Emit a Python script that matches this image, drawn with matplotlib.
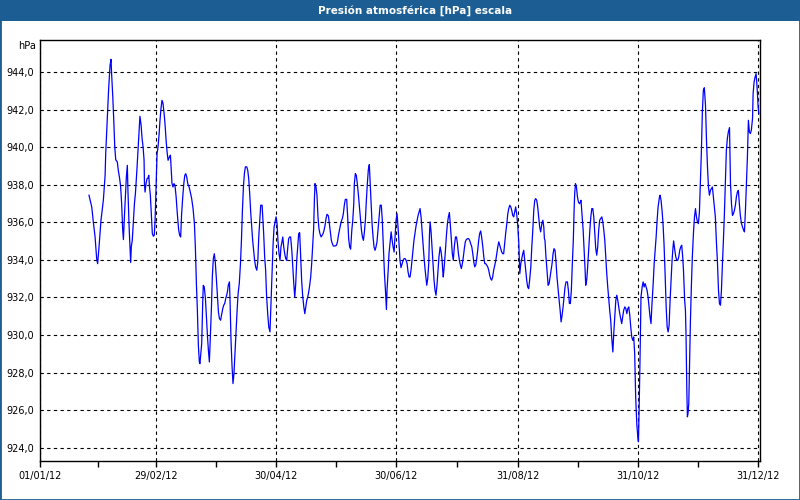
import pandas as pd
import matplotlib.pyplot as plt
from matplotlib.patches import Rectangle
from matplotlib.ticker import FuncFormatter
import matplotlib.dates as mdates

title = 'Presión atmosférica [hPa] escala'
unit = 'hPa'
tick_dates = ['2012-01-01', '2012-02-29', '2012-04-30', '2012-06-30',
              '2012-08-31', '2012-10-31', '2012-12-31']
y_ticks = [924, 926, 928, 930, 932, 934, 936, 938, 940, 942, 944]

# days since 01/01/12 and pressure (hPa) in six pieces
days_feb = [24.9, 26.3, 27.1, 28.0, 28.8, 29.3, 30.0, 31.0, 32.2, 33.1,
            33.4, 33.9, 34.4, 34.9, 35.6, 36.1, 36.4, 37.0, 37.5, 38.0,
            38.5, 39.3, 39.8, 40.5, 41.0, 41.5, 42.0, 42.4, 42.9, 43.4,
            43.9, 44.4, 44.7, 45.3, 45.8, 46.1, 46.4, 46.9, 47.5, 48.0,
            48.5, 49.2, 49.7, 50.2, 50.5, 50.8, 51.4, 51.9, 52.4, 52.9,
            53.1, 53.4, 53.9, 54.4, 54.9, 55.3, 55.6, 56.1, 56.6, 57.1,
            57.6, 58.1, 58.5, 58.8, 59.2, 59.5, 60.0, 60.5, 61.0, 61.5,
            62.0, 62.5, 63.1, 63.6, 64.1, 64.6, 65.1, 65.8, 66.3, 66.6,
            67.1, 67.6, 68.1, 68.6, 69.2, 69.8, 70.5, 71.0, 71.5, 72.0,
            72.5, 73.1, 73.6, 74.1, 74.6, 75.1, 75.8, 76.4, 77.1, 77.8,
            78.5, 79.0, 79.5, 80.0, 80.5, 81.0]
p_feb = [937.44, 936.82, 936.02, 935.22, 934.07, 933.80, 934.69, 936.11, 937.17, 938.50,
         939.65, 940.81, 942.05, 943.11, 944.35, 944.67, 943.91, 942.67, 941.43, 940.01,
         939.33, 939.21, 938.77, 938.32, 937.88, 936.99, 935.67, 935.08, 936.29, 937.35,
         938.41, 939.03, 937.70, 935.75, 934.51, 933.86, 934.69, 935.04, 936.11, 936.99,
         937.53, 938.68, 939.65, 940.54, 941.07, 941.64, 941.16, 940.45, 940.01, 939.30,
         938.06, 937.61, 938.06, 938.32, 938.36, 938.50, 937.97, 937.44, 936.46, 935.40,
         935.26, 935.31, 936.11, 937.17, 938.77, 939.65, 940.01, 940.63, 941.43, 942.05,
         942.49, 942.35, 941.78, 941.16, 940.36, 939.74, 939.30, 939.48, 939.57, 939.03,
         938.06, 937.88, 938.06, 937.97, 937.35, 936.46, 935.58, 935.31, 935.22, 936.46,
         937.26, 938.06, 938.50, 938.59, 938.41, 938.06, 937.88, 937.61, 937.26, 936.73,
         935.93, 934.60, 932.74, 931.32, 929.46, 928.57]

days_apr = [81.3, 82.2, 82.7, 83.0, 83.5, 84.1, 84.6, 85.1, 85.6, 86.1,
            86.6, 87.1, 87.6, 88.1, 88.6, 89.1, 89.6, 90.2, 90.7, 91.2,
            91.8, 92.4, 92.9, 93.4, 93.9, 94.4, 94.9, 95.4, 95.7, 96.3,
            96.6, 97.1, 97.6, 98.1, 98.6, 99.1, 99.6, 100.2, 100.7, 101.3,
            101.9, 102.4, 102.9, 103.4, 103.9, 104.4, 105.1, 105.6, 106.1, 106.6,
            107.1, 107.6, 108.1, 108.6, 109.1, 109.6, 110.2, 110.7, 111.2, 111.7,
            112.2, 112.9, 113.2, 113.7, 114.2, 114.7, 115.2, 115.8, 116.3, 116.9,
            117.4, 118.0, 118.5, 119.0, 119.5, 120.0, 120.5, 121.0, 121.5, 122.0,
            122.5, 123.0, 123.4, 123.9, 124.4, 124.9, 125.4, 125.9, 126.4, 126.9,
            127.4, 128.0, 128.5, 129.0, 129.5, 130.0, 130.5, 131.0, 131.5, 132.0,
            132.5, 133.0, 133.5, 134.1, 134.6, 135.1, 135.6, 136.1, 136.6, 137.1,
            137.6, 138.1, 138.6, 139.1, 139.5]
p_apr = [928.48, 929.55, 931.68, 932.65, 932.56, 931.94, 930.97, 929.99, 929.19, 928.57,
         929.99, 931.32, 933.09, 934.07, 934.33, 933.89, 933.09, 932.03, 931.23, 930.88,
         930.79, 931.14, 931.41, 931.59, 931.68, 931.94, 932.12, 932.38, 932.65, 932.83,
         931.85, 929.72, 928.39, 927.42, 927.95, 929.02, 930.17, 931.32, 932.21, 932.74,
         933.80, 935.04, 936.64, 937.88, 938.59, 938.95, 938.95, 938.77, 938.32, 937.53,
         936.55, 935.75, 935.04, 934.51, 933.98, 933.63, 933.45, 933.89, 935.22, 936.11,
         936.91, 936.91, 936.37, 935.40, 934.16, 933.45, 932.03, 931.06, 930.43, 930.17,
         931.68, 933.45, 934.87, 935.75, 936.02, 936.29, 935.93, 934.96, 934.33, 933.98,
         934.69, 934.96, 935.22, 934.69, 934.33, 934.07, 933.98, 934.60, 935.13, 935.22,
         935.22, 934.51, 933.63, 932.74, 932.03, 932.74, 933.98, 934.69, 935.40, 935.45,
         934.16, 932.92, 932.12, 931.50, 931.14, 931.50, 931.85, 932.03, 932.30, 932.65,
         933.09, 933.80, 934.78, 935.66, 937.26]

days_jun = [139.8, 140.3, 140.8, 141.3, 141.8, 142.3, 142.9, 143.4, 143.9, 144.4,
            144.9, 145.4, 145.9, 146.6, 147.1, 147.6, 148.1, 148.6, 149.1, 150.0,
            150.7, 151.2, 151.7, 152.2, 152.7, 153.2, 153.7, 154.2, 154.7, 155.2,
            155.9, 156.4, 156.9, 157.4, 157.9, 158.5, 159.0, 159.5, 159.8, 160.3,
            160.8, 161.3, 161.8, 162.4, 162.9, 163.4, 163.9, 164.4, 164.9, 165.4,
            165.9, 166.4, 166.9, 167.4, 167.8, 168.3, 168.8, 169.3, 169.8, 170.3,
            170.8, 171.3, 171.8, 172.4, 172.9, 173.5, 174.0, 174.6, 175.1, 175.6,
            176.1, 176.4, 177.0, 177.4, 178.0, 178.5, 179.0, 179.5, 180.0, 180.5,
            181.0, 181.5, 182.0, 182.5, 183.0, 183.5, 184.1, 184.6, 185.1, 185.6,
            186.1, 186.6, 187.1, 187.6, 188.1, 188.6, 189.1, 189.6, 190.1, 190.7,
            191.2, 191.7, 192.2, 192.7, 193.2, 193.7, 194.2, 194.7, 195.2, 195.7,
            196.3, 196.6, 197.1, 197.6, 198.0]
p_jun = [938.06, 937.88, 937.44, 936.29, 935.66, 935.40, 935.22, 935.31, 935.40, 935.58,
         935.84, 936.20, 936.43, 936.34, 935.93, 935.49, 935.04, 934.87, 934.74, 934.74,
         934.78, 934.96, 935.31, 935.58, 935.84, 936.07, 936.20, 936.46, 936.91, 937.22,
         937.22, 936.29, 935.13, 934.69, 934.57, 935.58, 936.11, 936.99, 938.06, 938.59,
         938.50, 938.06, 937.53, 936.82, 936.29, 935.58, 935.22, 935.04, 935.49, 936.11,
         937.17, 938.06, 938.80, 939.07, 938.15, 936.99, 935.93, 935.22, 934.69, 934.51,
         934.69, 934.96, 935.58, 936.29, 936.91, 936.91, 936.11, 934.51, 933.27, 932.38,
         931.36, 932.38, 933.45, 934.33, 934.96, 935.49, 935.04, 934.69, 934.42, 935.31,
         936.11, 936.46, 935.75, 934.87, 933.98, 933.59, 933.80, 933.98, 934.07, 934.07,
         933.98, 933.80, 933.36, 933.09, 933.09, 933.45, 933.98, 934.51, 935.04, 935.49,
         935.84, 936.11, 936.37, 936.55, 936.73, 936.29, 935.58, 934.87, 934.16, 933.54,
         932.92, 932.65, 933.00, 933.80, 935.40]

days_aug = [198.3, 198.8, 199.3, 199.8, 200.3, 200.8, 201.3, 201.8, 202.3, 202.8,
            203.4, 203.9, 204.4, 204.7, 205.0, 205.6, 206.1, 206.6, 207.1, 207.6,
            208.1, 208.6, 209.1, 209.6, 210.1, 210.6, 211.2, 211.7, 212.2, 212.7,
            213.2, 213.7, 214.2, 214.7, 215.2, 215.7, 216.2, 216.7, 217.3, 217.9,
            218.4, 218.9, 219.5, 220.0, 220.5, 221.0, 221.5, 222.0, 222.5, 223.0,
            223.5, 224.0, 224.5, 225.1, 225.6, 226.1, 226.6, 227.1, 227.6, 228.1,
            228.6, 229.1, 229.6, 230.1, 230.6, 231.2, 231.7, 232.2, 232.7, 233.2,
            233.7, 234.2, 234.7, 235.2, 235.7, 236.2, 236.7, 237.3, 237.8, 238.3,
            238.8, 239.3, 239.8, 240.3, 240.8, 241.3, 241.8, 242.3, 242.8, 243.4,
            243.9, 244.4, 244.9, 245.4, 245.9, 246.4, 246.9, 247.4, 247.9, 248.4,
            248.9, 249.5, 250.0, 250.5, 251.0, 251.5, 252.0, 252.5, 253.0, 253.5,
            254.0, 254.5, 255.1, 255.6, 256.1, 256.4]
p_aug = [936.02, 935.49, 934.60, 933.63, 932.92, 932.38, 932.12, 932.65, 933.45, 934.16,
         934.69, 934.42, 933.98, 933.45, 933.09, 933.80, 934.51, 935.31, 935.93, 936.29,
         936.52, 935.84, 935.04, 934.33, 933.98, 934.69, 935.22, 935.22, 934.87, 934.33,
         933.98, 933.72, 933.54, 933.80, 934.16, 934.60, 934.96, 935.08, 935.13, 935.13,
         935.04, 934.87, 934.69, 934.33, 933.89, 933.63, 933.72, 934.07, 934.51, 935.04,
         935.40, 935.54, 935.22, 934.69, 934.16, 933.80, 933.80, 933.72, 933.63, 933.45,
         933.18, 933.00, 932.92, 933.09, 933.45, 933.72, 933.98, 934.33, 934.69, 934.96,
         934.78, 934.60, 934.42, 934.33, 934.33, 934.87, 935.40, 935.93, 936.46, 936.73,
         936.91, 936.82, 936.64, 936.37, 936.29, 936.55, 936.82, 936.46, 935.93, 934.87,
         933.27, 933.80, 934.07, 934.33, 934.51, 933.98, 933.45, 932.92, 932.56, 932.47,
         932.92, 933.63, 934.69, 935.58, 936.64, 937.17, 937.26, 937.17, 936.82, 936.29,
         935.75, 935.49, 935.93, 936.11, 935.75, 935.13]

days_oct = [256.7, 257.2, 257.8, 258.3, 258.8, 259.3, 259.8, 260.3, 260.8, 261.3,
            261.8, 262.3, 262.8, 263.4, 263.9, 264.4, 264.9, 265.4, 265.9, 266.4,
            266.9, 267.4, 268.1, 268.6, 269.1, 269.6, 270.1, 270.6, 271.1, 271.5,
            271.8, 272.2, 272.7, 273.2, 273.7, 274.2, 274.7, 275.0, 275.5, 276.1,
            276.6, 277.1, 277.4, 277.9, 278.4, 278.9, 279.5, 280.0, 280.5, 281.0,
            281.5, 282.0, 282.5, 283.0, 283.5, 284.0, 284.5, 285.0, 285.6, 286.1,
            286.6, 287.1, 287.6, 288.1, 288.6, 289.1, 289.6, 290.1, 290.6, 291.2,
            291.7, 292.2, 292.7, 293.2, 293.7, 294.2, 294.7, 295.2, 295.7, 296.2,
            296.7, 297.3, 297.8, 298.3, 298.8, 299.3, 299.8, 300.3, 300.8, 301.3,
            301.8, 302.3, 302.8, 303.4, 303.9, 304.2, 304.5, 305.0, 305.5, 306.1,
            306.6, 307.1, 307.6, 308.1, 308.6, 309.1, 309.6, 310.1, 310.6, 311.1,
            311.7, 312.2, 312.7, 313.2, 313.7, 314.2, 314.9]
p_oct = [935.04, 934.16, 933.36, 932.65, 932.74, 933.09, 933.45, 933.80, 934.33, 934.60,
         934.51, 933.89, 933.09, 932.38, 931.85, 931.32, 930.70, 931.06, 931.50, 932.03,
         932.56, 932.83, 932.83, 932.38, 931.68, 931.68, 932.38, 933.80, 935.04, 936.64,
         937.53, 938.06, 937.88, 937.35, 937.08, 936.99, 937.08, 937.17, 936.46, 935.58,
         934.51, 933.45, 932.65, 932.92, 933.63, 934.51, 935.58, 936.29, 936.73, 936.73,
         936.29, 935.40, 934.60, 934.25, 934.69, 935.58, 936.11, 936.20, 936.29, 936.02,
         935.58, 935.04, 934.16, 933.27, 932.56, 931.94, 931.32, 930.79, 929.90, 929.10,
         930.17, 930.97, 931.85, 932.12, 931.85, 931.50, 931.14, 930.88, 930.61, 930.97,
         931.32, 931.50, 931.41, 931.14, 931.41, 931.50, 931.06, 930.43, 929.90, 929.72,
         929.90, 929.02, 926.71, 925.21, 924.58, 924.32, 925.74, 928.66, 932.03, 932.56,
         932.83, 932.56, 932.74, 932.56, 932.38, 932.03, 931.50, 930.97, 930.61, 931.68,
         932.74, 933.80, 934.51, 935.22, 936.11, 936.82, 937.35]

days_dec = [315.2, 315.7, 316.2, 316.7, 317.2, 317.7, 318.3, 318.8, 319.3, 319.8,
            320.3, 320.8, 321.3, 321.8, 322.1, 322.7, 323.2, 323.7, 324.2, 324.7,
            325.2, 325.7, 326.2, 326.7, 327.1, 327.4, 327.7, 328.1, 328.4, 328.8,
            329.1, 329.4, 329.8, 330.1, 330.6, 331.1, 331.6, 332.2, 332.7, 333.2,
            333.7, 334.2, 334.7, 335.2, 335.7, 336.2, 336.7, 337.2, 337.7, 338.3,
            338.8, 339.3, 339.8, 340.3, 340.8, 341.3, 341.8, 342.3, 342.8, 343.3,
            343.8, 344.4, 344.9, 345.4, 345.9, 346.4, 346.9, 347.4, 347.9, 348.4,
            348.9, 349.4, 349.9, 350.5, 351.0, 351.5, 352.0, 352.5, 353.0, 353.5,
            354.0, 354.5, 355.0, 355.5, 356.0, 356.6, 357.1, 357.6, 358.1, 358.6,
            359.1, 359.6, 360.1, 360.6, 361.1, 361.6, 362.2, 362.5, 363.0, 363.5,
            364.0, 364.4, 364.7, 365.0, 365.4]
p_dec = [937.44, 937.17, 936.64, 935.93, 934.87, 933.45, 931.50, 930.43, 930.17, 930.52,
         931.85, 932.92, 933.98, 934.69, 935.01, 934.51, 934.16, 933.98, 933.98, 934.16,
         934.51, 934.69, 934.78, 934.16, 933.45, 932.65, 931.85, 931.32, 929.99, 927.07,
         925.65, 925.83, 926.36, 927.95, 930.61, 932.56, 934.16, 935.49, 936.29, 936.73,
         936.29, 936.02, 935.93, 936.55, 938.06, 939.74, 941.87, 943.02, 943.16, 942.22,
         940.36, 938.95, 937.88, 937.44, 937.70, 937.79, 937.88, 937.35, 936.82, 936.29,
         935.04, 933.80, 932.38, 931.68, 931.59, 932.38, 933.80, 935.04, 936.46, 938.06,
         939.83, 940.45, 940.81, 941.04, 938.06, 936.99, 936.37, 936.46, 936.64, 936.91,
         937.35, 937.61, 937.70, 936.99, 936.37, 935.93, 935.75, 935.61, 935.49, 936.64,
         938.06, 939.48, 941.43, 940.81, 940.72, 940.90, 941.52, 942.85, 943.47, 943.73,
         943.91, 943.38, 942.85, 942.22, 941.78]

days = days_feb + days_apr + days_jun + days_aug + days_oct + days_dec
pressure = p_feb + p_apr + p_jun + p_aug + p_oct + p_dec

start = pd.Timestamp('2012-01-01')
dates = start + pd.to_timedelta(days, unit='D')
ticks = pd.to_datetime(tick_dates)
minor_ticks = ticks[:-1] + (ticks[1:] - ticks[:-1]) / 2

bar_color = '#1c5e94'

fig = plt.figure(figsize=(8, 5), dpi=100)
fig.patch.set_facecolor('white')

# title bar
fig.add_artist(Rectangle((0, 1 - 21 / 500), 1, 21 / 500, transform=fig.transFigure,
                         facecolor=bar_color, edgecolor='none'))
fig.text(0.519, 1 - 10.5 / 500, title, color='white', fontsize=7.5,
         fontweight='bold', ha='center', va='center')
# window border
fig.add_artist(Rectangle((0, 0), 1, 1, transform=fig.transFigure, fill=False,
                         edgecolor=bar_color, linewidth=2))

ax = fig.add_axes([0.05, 0.078, 0.90, 0.842])
ax.plot(dates, pressure, color='#0000ff', linewidth=0.9)

ax.set_xlim(start, pd.Timestamp('2013-01-01'))
ax.set_ylim(923.3, 945.7)
ax.set_xticks(ticks)
ax.set_xticks(minor_ticks, minor=True)
ax.xaxis.set_major_formatter(mdates.DateFormatter('%d/%m/%y'))
ax.set_yticks(y_ticks)
ax.yaxis.set_major_formatter(FuncFormatter(lambda v, pos: f'{v:.1f}'.replace('.', ',')))

ax.tick_params(axis='x', which='both', direction='out', length=4, width=1,
               labelsize=7, pad=3, color='black')
ax.tick_params(axis='y', length=0, labelsize=7, pad=4)
ax.grid(True, which='major', color='black', linestyle=(0, (3, 3)), linewidth=0.8)
for s in ax.spines.values():
    s.set_color('black')
    s.set_linewidth(1)

fig.text(36 / 800, 1 - 46 / 500, unit, fontsize=7, ha='right', va='center')

plt.savefig('out.png', dpi=100)
